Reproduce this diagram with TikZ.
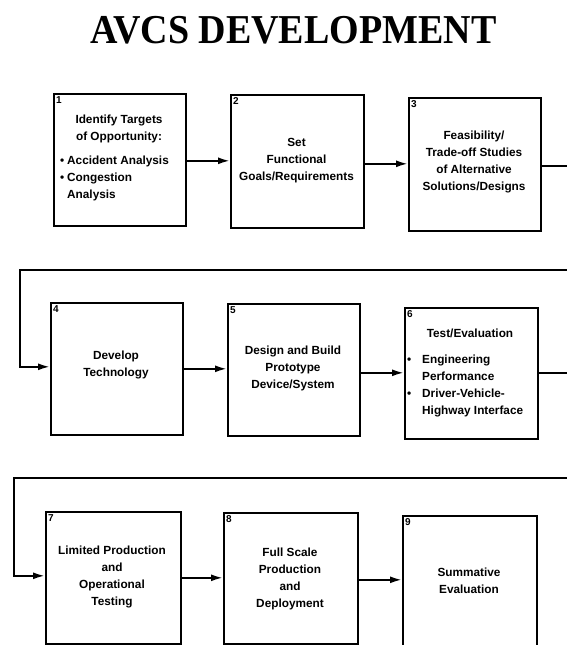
\documentclass[tikz,border=0pt]{standalone}
\usepackage{fontspec}
\setmainfont{Liberation Sans}
\newfontfamily\titlefont{Liberation Serif}
\usetikzlibrary{arrows.meta}
\begin{document}
\begin{tikzpicture}[x=1pt,y=-1pt,
  box/.style={draw, line width=1.6pt, inner sep=0pt, anchor=north west},
  num/.style={anchor=north west, inner sep=0pt, font=\bfseries\fontsize{10}{10}\selectfont},
  txt/.style={align=center, inner sep=0pt, font=\bfseries\fontsize{11.8}{17}\selectfont},
  lst/.style={align=left, anchor=west, inner sep=0pt, font=\bfseries\fontsize{11.8}{17}\selectfont},
  conn/.style={line width=2pt, line join=miter, -{Latex[length=12pt,width=7pt]}}]
\useasboundingbox (0,0) rectangle (566,645);

\node (title) at (293.5,30) {\titlefont\bfseries\fontsize{38}{40}\selectfont\scalebox{1}[1.08]{AVCS DEVELOPMENT}};

% boxes
\node[box, minimum width=132pt, minimum height=132pt] (b1) at (53,93) {};
\node[box, minimum width=133pt, minimum height=133pt] (b2) at (230,94) {};
\node[box, minimum width=132pt, minimum height=133pt] (b3) at (408,97) {};
\node[box, minimum width=132pt, minimum height=132pt] (b4) at (50,302) {};
\node[box, minimum width=132pt, minimum height=132pt] (b5) at (227,303) {};
\node[box, minimum width=133pt, minimum height=131pt] (b6) at (404,307) {};
\node[box, minimum width=135pt, minimum height=132pt] (b7) at (45,511) {};
\node[box, minimum width=134pt, minimum height=131pt] (b8) at (223,512) {};
\node[box, minimum width=134pt, minimum height=150pt] (b9) at (402,515) {};

% numbers
\foreach \i in {1,...,9} {
  \node[num] (n\i) at ([shift={(3,3)}]b\i.north west) {\i};
}

% texts
\node[txt] (t1) at (119,128.5) {Identify Targets\\of Opportunity:};
\node[lst] (l1) at (60,178.5) {\makebox[7pt][l]{\textbullet}Accident Analysis\\\makebox[7pt][l]{\textbullet}Congestion\\\makebox[7pt][l]{}Analysis};
\node[txt] (t2) at (296.5,161) {Set\\Functional\\Goals/Requirements};
\node[txt] (t3) at (474,162) {Feasibility/\\Trade-off Studies\\of Alternative\\Solutions/Designs};
\node[txt] (t4) at (116,364.5) {Develop\\Technology};
\node[txt] (t5) at (293,368) {Design and Build\\Prototype\\Device/System};
\node[txt] (t6) at (470,333) {Test/Evaluation};
\node[lst] (l6) at (407,386) {\makebox[15pt][l]{\textbullet}Engineering\\\makebox[15pt][l]{}Performance\\\makebox[15pt][l]{\textbullet}Driver-Vehicle-\\\makebox[15pt][l]{}Highway Interface};
\node[txt] (t7) at (112,577) {Limited Production\\and\\Operational\\Testing};
\node[txt] (t8) at (290,578.5) {Full Scale\\Production\\and\\Deployment};
\node[txt] (t9) at (469,581) {Summative\\Evaluation};

% route coordinates
\coordinate (e1) at (580,270);
\coordinate (w1) at (20,270);
\coordinate (e2) at (580,478);
\coordinate (w2) at (14,478);

% connectors
\draw[conn] ([yshift=-1pt]b1.east) -- ([yshift=-1pt]b1.east -| b2.west);
\draw[conn] ([yshift=-2.5pt]b2.east) -- ([yshift=-2.5pt]b2.east -| b3.west);
\draw[conn] ([yshift=-1.5pt]b3.east) -- ([yshift=-1.5pt]b3.east -| e1) -- (e1) -- (w1) -- ([yshift=2pt]w1 |- b4.west) -- ([yshift=2pt]b4.west);
\draw[conn] (b4.east) -- (b4.east -| b5.west);
\draw[conn] ([yshift=-3pt]b5.east) -- ([yshift=-3pt]b5.east -| b6.west);
\draw[conn] (b6.east) -- (b6.east -| e2) -- (e2) -- (w2) -- ([yshift=2pt]w2 |- b7.west) -- ([yshift=2pt]b7.west);
\draw[conn] (b7.east) -- (b7.east -| b8.west);
\draw[conn] ([yshift=-1.5pt]b8.east) -- ([yshift=-1.5pt]b8.east -| b9.west);
\end{tikzpicture}
\end{document}
